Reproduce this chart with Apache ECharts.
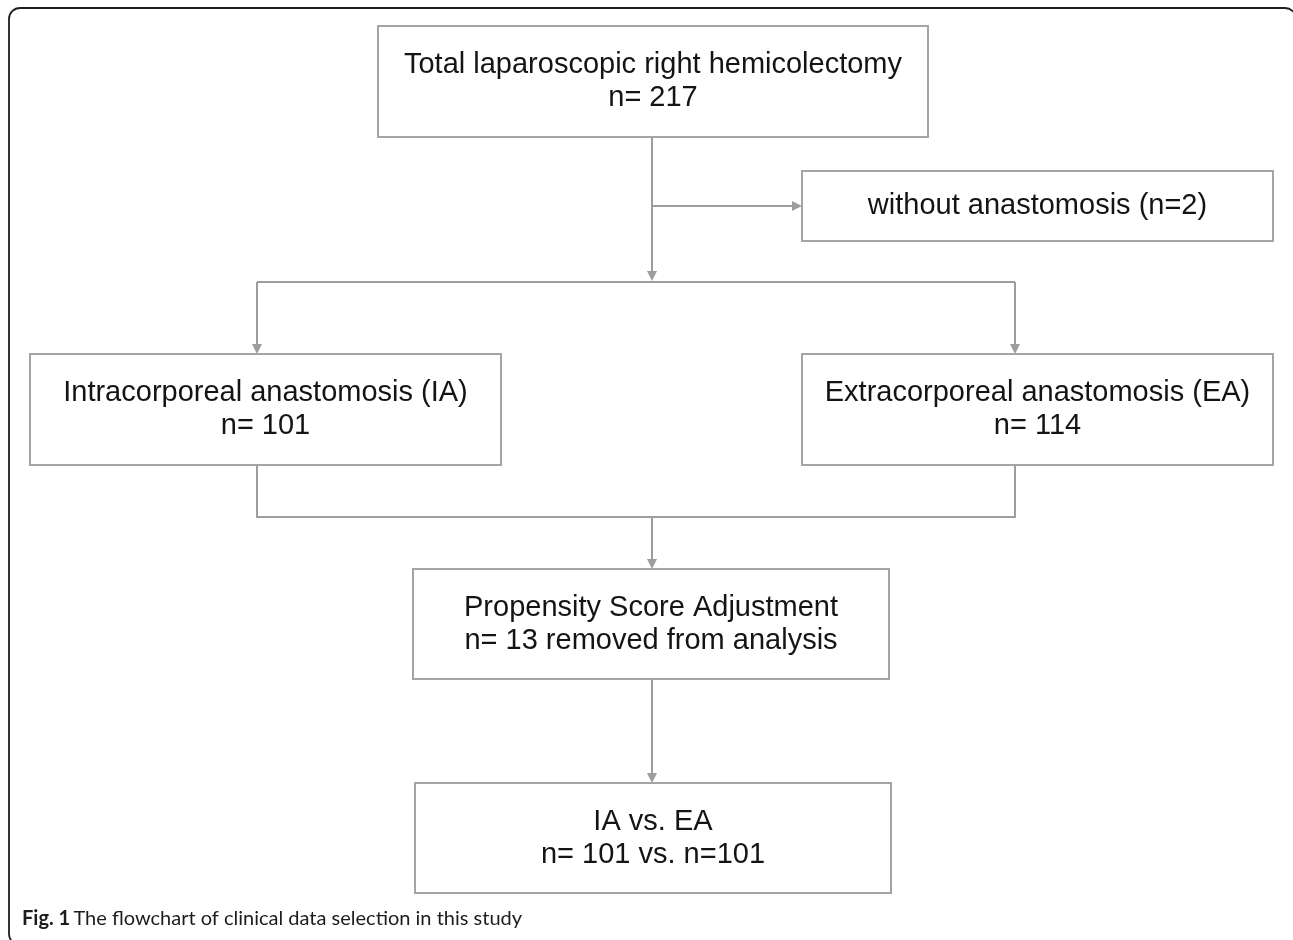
<!DOCTYPE html>
<html>
<head>
    <meta charset="utf-8">
    <script src="https://cdn.jsdelivr.net/npm/echarts@6/dist/echarts.min.js"></script>
    <style>
        html, body { margin: 0; padding: 0; background: #fff; }
    </style>
</head>
<body>
    <div id="main" style="width: 1293px;height:940px;"></div>
    <script type="text/javascript">
        // study counts
        var totalN = 217;
        var withoutAnastomosisN = 2;
        var iaN = 101;
        var eaN = 114;
        var removedN = 13;
        var matchedN = [101, 101];

        // box captions (first line), second line built from the counts
        var boxTitles = [
            'Total laparoscopic right hemicolectomy',
            'without anastomosis (n=' + withoutAnastomosisN + ')',
            'Intracorporeal anastomosis (IA)',
            'Extracorporeal anastomosis (EA)',
            'Propensity Score Adjustment',
            'IA vs. EA'
        ];
        var boxSubtitles = [
            'n= ' + totalN,
            '',
            'n= ' + iaN,
            'n= ' + eaN,
            'n= ' + removedN + ' removed from analysis',
            'n= ' + matchedN[0] + ' vs. n=' + matchedN[1]
        ];

        // layout of the boxes on the page grid (left, top, right, bottom)
        var boxLayout = [
            [378, 26, 928, 137],
            [802, 171, 1273, 241],
            [30, 354, 501, 465],
            [802, 354, 1273, 465],
            [413, 569, 889, 679],
            [415, 783, 891, 893]
        ];

        // connector paths, arrow = arrowhead at the end
        var connectors = [
            { pts: [[652, 137], [652, 281]], arrow: true },
            { pts: [[652, 206], [802, 206]], arrow: true },
            { pts: [[257, 282], [1015, 282]], arrow: false },
            { pts: [[257, 282], [257, 354]], arrow: true },
            { pts: [[1015, 282], [1015, 354]], arrow: true },
            { pts: [[257, 465], [257, 517], [1015, 517], [1015, 465]], arrow: false },
            { pts: [[652, 517], [652, 569]], arrow: true },
            { pts: [[652, 679], [652, 783]], arrow: true }
        ];

        var lineColor = '#9d9d9d';
        var boxColor = '#a4a4a4';
        var textFont = '"Liberation Sans", Arial, sans-serif';

        var myChart = echarts.init(document.getElementById('main'));

        function renderBox(params, api) {
            var b = boxLayout[params.dataIndex];
            var p0 = api.coord([b[0], b[1]]);
            var p1 = api.coord([b[2], b[3]]);
            var text = boxTitles[params.dataIndex];
            if (boxSubtitles[params.dataIndex]) {
                text += '\n' + boxSubtitles[params.dataIndex];
            }
            return {
                type: 'group',
                children: [{
                    type: 'rect',
                    shape: { x: p0[0], y: p0[1], width: p1[0] - p0[0], height: p1[1] - p0[1] },
                    style: { fill: '#fff', stroke: boxColor, lineWidth: 2 }
                }, {
                    type: 'text',
                    x: (p0[0] + p1[0]) / 2,
                    y: (p0[1] + p1[1]) / 2,
                    style: {
                        text: text,
                        fill: '#141414',
                        fontSize: 29,
                        fontFamily: textFont,
                        align: 'center',
                        verticalAlign: 'middle',
                        lineHeight: 33
                    }
                }]
            };
        }

        function renderConnector(params, api) {
            var c = connectors[params.dataIndex];
            var pts = c.pts.map(function (p) { return api.coord(p); });
            var children = [];
            var end = pts[pts.length - 1];
            var prev = pts[pts.length - 2];
            var line = pts.slice();
            if (c.arrow) {
                var dx = end[0] - prev[0], dy = end[1] - prev[1];
                var len = Math.sqrt(dx * dx + dy * dy);
                var ux = dx / len, uy = dy / len;
                var headLen = 10, headW = 5;
                var bx = end[0] - ux * headLen, by = end[1] - uy * headLen;
                line[line.length - 1] = [bx, by];
                children.push({
                    type: 'polygon',
                    shape: { points: [end, [bx - uy * headW, by + ux * headW], [bx + uy * headW, by - ux * headW]] },
                    style: { fill: lineColor }
                });
            }
            children.unshift({
                type: 'polyline',
                shape: { points: line },
                style: { stroke: lineColor, lineWidth: 2, fill: null }
            });
            return { type: 'group', children: children };
        }

        var option = {
            animation: false,
            grid: { left: 0, right: 0, top: 0, bottom: 0 },
            xAxis: { type: 'value', min: 0, max: 1293, show: false },
            yAxis: { type: 'value', min: 0, max: 940, inverse: true, show: false },
            graphic: [{
                type: 'rect',
                shape: { x: 9, y: 8, width: 1287, height: 937, r: 11 },
                style: { fill: null, stroke: '#1f1f1f', lineWidth: 1.8 },
                z: 0
            }, {
                type: 'text',
                left: 22,
                top: 909,
                style: {
                    rich: {
                        b: { fontWeight: 'bold', fontSize: 20, fontFamily: 'Lato, sans-serif', fill: '#1c1c1c' },
                        n: { fontSize: 20, fontFamily: 'Lato, sans-serif', fill: '#1c1c1c' }
                    },
                    text: '{b|Fig. 1} {n|The flowchart of clinical data selection in this study}'
                }
            }],
            series: [{
                type: 'custom',
                coordinateSystem: 'cartesian2d',
                silent: true,
                clip: false,
                z: 2,
                data: connectors.map(function (c, i) { return [i]; }),
                renderItem: renderConnector
            }, {
                type: 'custom',
                coordinateSystem: 'cartesian2d',
                silent: true,
                clip: false,
                z: 3,
                data: boxTitles.map(function (t, i) { return [i]; }),
                renderItem: renderBox
            }]
        };

        myChart.setOption(option);
    </script>
</body>
</html>
